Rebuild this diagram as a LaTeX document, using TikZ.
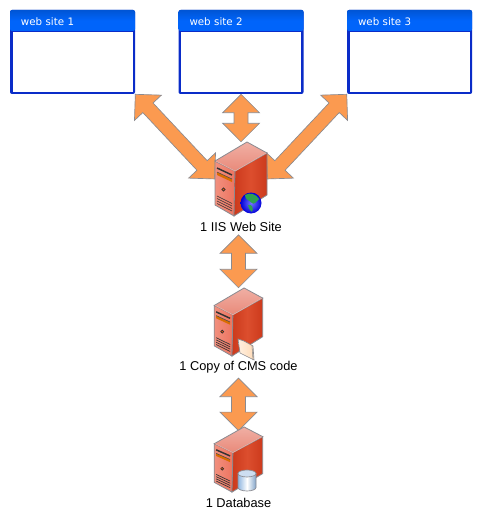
\documentclass[tikz,border=0pt]{standalone}
\usepackage{fontspec}
\setmainfont{Liberation Sans}
\newfontfamily\sitefont{DejaVu Sans}
\usetikzlibrary{shapes.arrows, positioning, calc}
\definecolor{arrowfill}{HTML}{FB9A50}
\definecolor{edgegray}{HTML}{8A8A90}
\definecolor{framedark}{HTML}{0A2CC8}
\definecolor{titleblue}{HTML}{0064FA}
\definecolor{frontlight}{HTML}{F2907E}
\definecolor{frontdark}{HTML}{EC7460}
\definecolor{sidedark}{HTML}{CC3A1C}
\definecolor{sidemid}{HTML}{DC4E2E}
\definecolor{toplight}{HTML}{F0AFA4}
\definecolor{topdark}{HTML}{E98A7A}
\definecolor{canblue}{HTML}{8FB6E0}
\definecolor{landgreen}{HTML}{2FA050}

\begin{document}
\begin{tikzpicture}[
    x=0.75pt, y=-0.75pt,
    sitewin/.style={rectangle, fill=framedark, rounded corners=1.5pt, inner sep=0pt, minimum width=93.75pt, minimum height=63pt},
    sitetitle/.style={rectangle, top color=titleblue!85!black, bottom color=titleblue, middle color=titleblue, rounded corners=1.5pt, inner sep=0pt, minimum width=93.75pt, minimum height=15.75pt, text width=77.25pt, text height=7.9pt, text=white, font=\sitefont\fontsize{7.7}{9}\selectfont, align=left},
    sitepane/.style={rectangle, fill=white, inner sep=0pt, minimum width=90pt, minimum height=45pt},
    serverbox/.style={rectangle, inner sep=0pt, minimum width=39pt, minimum height=55.5pt},
    caption/.style={inner sep=0pt, text height=7pt, text depth=2pt, font=\fontsize{9.6}{11}\selectfont},
    fatarrow/.style={to path={let \p1=($(\tikztotarget)-(\tikztostart)$), \n1={atan2(\y1,\x1)}, \n2={veclen(\x1,\y1)} in
        node[double arrow, double arrow tip angle=90, double arrow head extend=8.6pt, minimum height=\n2, inner xsep=0pt, inner ysep=5pt, fill=arrowfill, draw=edgegray, line width=0.5pt, rotate=\n1] at ($(\tikztostart)!.5!(\tikztotarget)$) {}}},
    server/.pic={
        \path[draw=edgegray, line width=0.6pt, left color=frontlight, right color=frontdark] (-26,-18) -- (-6,-8) -- (-7,37) -- (-26,26) -- cycle;
        \path[draw=edgegray, line width=0.6pt, left color=sidedark, right color=sidedark, middle color=sidemid] (-6,-8) -- (26,-26) -- (26,16) -- (-7,37) -- cycle;
        \path[draw=edgegray, line width=0.6pt, top color=toplight, bottom color=topdark] (-26,-18) -- (6,-37) -- (26,-26) -- (-6,-8) -- cycle;
        \draw[toplight, line width=0.5pt] (-25,-18) -- (-6,-8) -- (25,-26);
        % drive bays
        \draw[black!80, line width=1.1pt] (-24,-11) -- (-9,-4);
        \fill[orange!85!black] (-24,-7) -- (-9,0) -- (-9,3) -- (-24,-4) -- cycle;
        \draw[black!70, line width=0.4pt] (-24,-7) -- (-9,0);
        \filldraw[fill=orange!70!red, draw=black!80, line width=0.5pt] (-17.5,10.5) circle (1.6);
        % vents
        \foreach \ventY in {17,19.5,22,24.5}
            \draw[black!80, line width=0.5pt] (-24,\ventY) -- (-9,\ventY+7.5);
    },
    globe/.pic={
        \path[inner color=blue!55!white, outer color=blue!85!black] (0,0) circle (10.5);
        \fill[landgreen] (-6,-8) .. controls (-1,-11) and (5,-9) .. (8,-4) .. controls (5,-1) and (3,2) .. (1,0) .. controls (-2,-3) and (-6,-3) .. cycle;
        \fill[landgreen] (-3,2) .. controls (1,1) and (3,5) .. (1,9) .. controls (-1,7) and (-3,5) .. cycle;
    },
    folder/.pic={
        \path[draw=edgegray, line width=0.5pt, left color=orange!12!white, right color=orange!28!white] (-8,-10) -- (-2,-8) -- (7,-3) -- (8,11) -- (-6,4) -- cycle;
        \draw[black!45, line width=0.4pt] (6,-3) -- (7,11);
    },
    dbcan/.pic={
        \path[draw=edgegray, line width=0.5pt, left color=canblue, right color=canblue!90!black, middle color=white] (-9,-7) -- (-9,7) arc[start angle=180, end angle=0, x radius=9, y radius=3.5] -- (9,-7) -- cycle;
        \path[draw=edgegray, line width=0.5pt, fill=canblue!45!white] (0,-7) ellipse (9 and 3.5);
    }
]
    \useasboundingbox (0,0) rectangle (481,524);

    % Windows
    \node[sitewin] (site1) at (72.5,52) {};
    \node[sitewin, right=32.25pt of site1] (site2) {};
    \node[sitewin, right=32.25pt of site2] (site3) {};
    \foreach \siteId in {1,2,3} {
        \node[sitetitle, anchor=north] (title\siteId) at (site\siteId.north) {web site \siteId};
        \node[sitepane, below=0pt of title\siteId] (pane\siteId) {};
    }

    % Servers
    \node[serverbox] (iis) at (241,179) {};
    \node[caption, below=4.5pt of iis] (iislabel) {1 IIS Web Site};
    \node[serverbox, minimum width=36pt, minimum height=51pt] (cms) at (238.5,322) {};
    \node[caption, below=3.3pt of cms] (cmslabel) {1 Copy of CMS code};
    \node[serverbox, minimum width=36.5pt, minimum height=49pt] (db) at (238.5,459.5) {};
    \node[caption, below=3.8pt of db] (dblabel) {1 Database};

    % Relations
    \draw[fatarrow] (site1.south east) to (iis.west);
    \draw[fatarrow] (site2.south) to (iis.north);
    \draw[fatarrow] (site3.south west) to (iis.east);
    \draw[fatarrow] (iislabel.south -| cms.north) to (cms.north);
    \draw[fatarrow] ($(cmslabel.south)+(0,5)$) to ($(db.north)+(0,4)$);

    % Pictures on top
    \pic at (iis) {server};
    \pic[xscale=.93, yscale=.92] at (cms) {server};
    \pic[xscale=.93, yscale=.88] at (db) {server};
    \pic at ($(iis)+(10,24)$) {globe};
    \pic at ($(cms)+(7.5,27)$) {folder};
    \pic at ($(db)+(8.5,21)$) {dbcan};
\end{tikzpicture}
\end{document}
